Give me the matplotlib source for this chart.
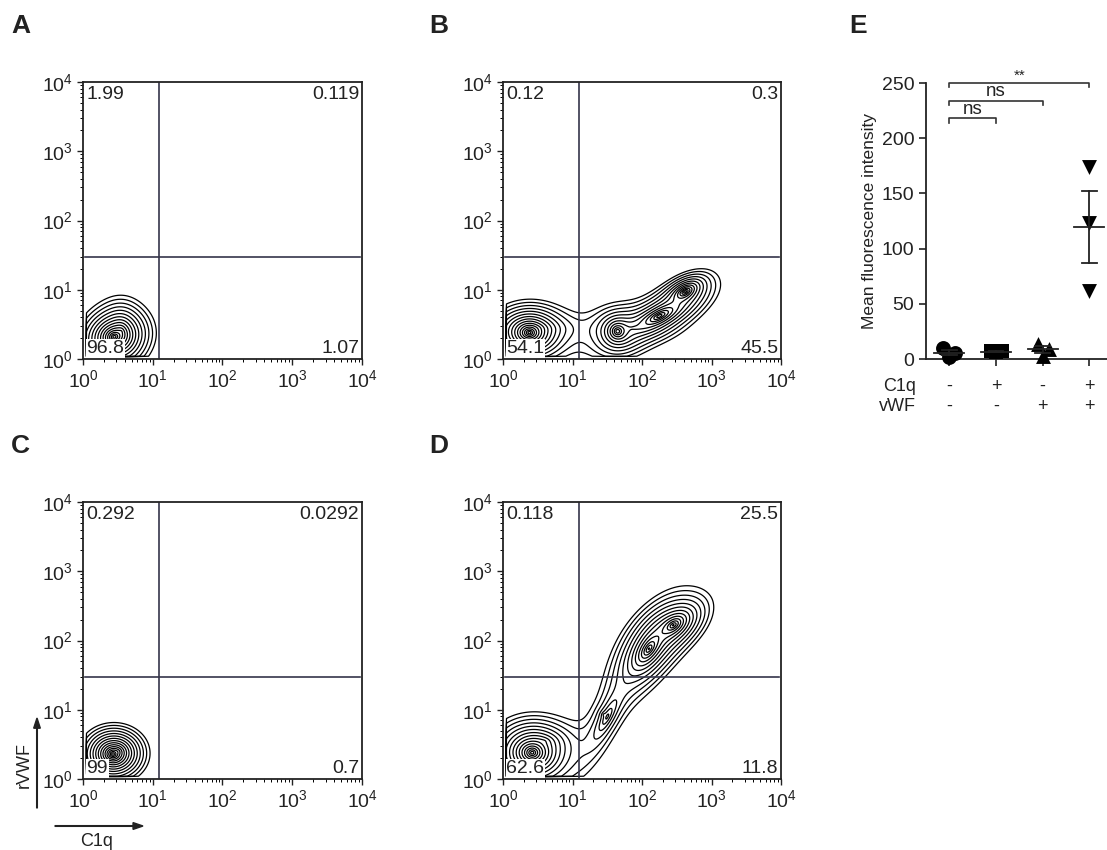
import numpy as np
import matplotlib
matplotlib.use("Agg")
import matplotlib.pyplot as plt
from matplotlib.patches import FancyArrow
from matplotlib.ticker import LogLocator, NullFormatter

plt.rcParams['font.family'] = ['Liberation Sans', 'DejaVu Sans']
plt.rcParams['mathtext.fontset'] = 'custom'
plt.rcParams['mathtext.rm'] = 'Liberation Sans'
plt.rcParams['mathtext.it'] = 'Liberation Sans:italic'
plt.rcParams['mathtext.bf'] = 'Liberation Sans:bold'

# quadrant percentages (UL, UR, LL, LR) for each flow panel
quad_A = ['1.99', '0.119', '96.8', '1.07']
quad_B = ['0.12', '0.3', '54.1', '45.5']
quad_C = ['0.292', '0.0292', '99', '0.7']
quad_D = ['0.118', '25.5', '62.6', '11.8']

# gate positions
gate_x = 12.3
gate_y = 30

# populations, in log10 units:
# (centre x, centre y, reach x, reach y, tilt, relative weight)
pops_A = [(0.45, 0.32, 0.55, 0.48, 0.1, 1.0),
          (0.55, 0.40, 0.62, 0.90, 0.0, 0.12)]
pops_B = [(0.38, 0.38, 0.58, 0.45, 0.0, 1.0),
          (0.50, 0.45, 2.30, 0.75, 0.0, 0.03),
          (1.65, 0.40, 0.50, 0.50, 0.0, 0.3),
          (1.90, 0.45, 2.00, 0.75, 0.0, 0.03),
          (2.25, 0.62, 1.00, 0.62, 0.7, 0.4),
          (2.62, 0.97, 0.52, 0.40, 0.5, 0.4)]
pops_C = [(0.43, 0.36, 0.48, 0.42, 0.0, 1.0),
          (0.50, 0.40, 0.60, 0.50, 0.0, 0.12)]
pops_D = [(0.42, 0.38, 0.65, 0.55, 0.0, 1.0),
          (0.60, 0.55, 1.30, 0.70, 0.0, 0.04),
          (2.10, 1.88, 0.72, 0.92, 0.6, 0.45),
          (2.45, 2.22, 0.70, 0.60, 0.5, 0.45),
          (1.50, 0.90, 1.10, 1.90, 0.8, 0.07),
          (1.45, 0.93, 0.22, 0.22, 0.0, 0.02)]

# panel E: mean fluorescence intensity
groups = [0, 1, 2, 3]
mfi_vals = [[10, 2, 5], [7, 6, 7], [14, 3, 9], [174, 123, 62]]
c1q_row = ['-', '+', '-', '+']
vwf_row = ['-', '-', '+', '+']
brackets = [(0, 3, 250, '**'), (0, 2, 234, 'ns'), (0, 1, 218, 'ns')]

W, H = 1107, 850
fig = plt.figure(figsize=(W / 100, H / 100), dpi=100)
ink = '#222222'


def box(l, t, r, b):
    return [l / W, 1 - b / H, (r - l) / W, (b - t) / H]


def density(pops):
    g = np.linspace(-0.1, 4.1, 420)
    X, Y = np.meshgrid(g, g)
    Z = np.zeros_like(X)
    for cx, cy, sx, sy, rho, w in pops:
        dx = (X - cx) / sx
        dy = (Y - cy) / sy
        q = (dx * dx - 2 * rho * dx * dy + dy * dy) / (1 - rho ** 2)
        Z += w * np.exp(-4.8 * (q + 0.0005) ** 0.325)
    Z[(X < 0.05) | (Y < 0.04)] = 0
    return 10 ** X, 10 ** Y, Z


def flow_panel(rect, pops, quads):
    ax = fig.add_axes(rect)
    X, Y, Z = density(pops)
    levels = np.geomspace(0.008, 0.55, 15)
    ax.contour(X, Y, Z, levels=levels, colors='black', linewidths=0.9)
    ax.set_xscale('log')
    ax.set_yscale('log')
    ax.set_xlim(1, 1e4)
    ax.set_ylim(1, 1e4)
    for a in (ax.xaxis, ax.yaxis):
        a.set_major_locator(LogLocator(base=10, numticks=10))
        a.set_minor_locator(LogLocator(base=10, subs=np.arange(2, 10), numticks=10))
        a.set_minor_formatter(NullFormatter())
    ax.tick_params(which='major', direction='out', length=4, width=1, labelsize=14, colors=ink)
    ax.tick_params(which='minor', direction='out', length=2, width=0.7)
    for s in ax.spines.values():
        s.set_linewidth(1.3)
        s.set_color(ink)
    ax.plot([gate_x, gate_x], [1.03, 9700], color='#35354a', lw=1.2)
    ax.plot([1.06, 9500], [gate_y, gate_y], color='#35354a', lw=1.2)
    kw = dict(fontsize=14, color=ink, transform=ax.transAxes,
              bbox=dict(facecolor='white', edgecolor='none', pad=0.5))
    ax.text(0.012, 0.985, quads[0], ha='left', va='top', **kw)
    ax.text(0.99, 0.985, quads[1], ha='right', va='top', **kw)
    ax.text(0.012, 0.008, quads[2], ha='left', va='bottom', **kw)
    ax.text(0.99, 0.008, quads[3], ha='right', va='bottom', **kw)
    return ax


flow_panel(box(83, 82, 362, 359), pops_A, quad_A)
flow_panel(box(503, 82, 781, 359), pops_B, quad_B)
flow_panel(box(83, 502, 362, 779), pops_C, quad_C)
flow_panel(box(503, 502, 781, 779), pops_D, quad_D)

# panel letters
for lab, (px, py) in {'A': (11, 14), 'B': (429, 14), 'E': (849, 14),
                      'C': (11, 434), 'D': (429, 434)}.items():
    fig.text(px / W, 1 - py / H, lab, fontsize=19, fontweight='bold', va='top', ha='left', color=ink)

# axis arrows under panel C
fig.patches.append(FancyArrow(37 / W, 1 - 808 / H, 0, 90 / H, width=0.0006,
                              head_width=0.006, head_length=0.012,
                              length_includes_head=True, transform=fig.transFigure, color=ink))
fig.patches.append(FancyArrow(55 / W, 1 - 826 / H, 88 / W, 0, width=0.0008,
                              head_width=0.008, head_length=0.009,
                              length_includes_head=True, transform=fig.transFigure, color=ink))
fig.text(24 / W, 1 - 765 / H, 'rVWF', rotation=90, ha='center', va='center', fontsize=13, color=ink)
fig.text(97 / W, 1 - 842 / H, 'C1q', ha='center', va='center', fontsize=13, color=ink)

# panel E
ax = fig.add_axes(box(926, 83, 1107, 359))
markers = ['o', 's', '^', 'v']
offsets = [[-0.13, 0.0, 0.13], [-0.1, 0.0, 0.13], [-0.1, 0.0, 0.13], [0.0, 0.0, 0.0]]
for g, vals, m, off in zip(groups, mfi_vals, markers, offsets):
    vals = np.array(vals, dtype=float)
    ax.scatter(g + np.array(off), vals, marker=m, s=115, color='black', zorder=3, clip_on=False, linewidths=0)
    mean = vals.mean()
    sem = vals.std(ddof=1) / np.sqrt(len(vals))
    ax.plot([g - 0.32, g + 0.32], [mean, mean], color=ink, lw=1.3, zorder=4)
    ax.plot([g, g], [mean - sem, mean + sem], color=ink, lw=1.3, zorder=4)
    for v in (mean - sem, mean + sem):
        ax.plot([g - 0.16, g + 0.16], [v, v], color=ink, lw=1.3, zorder=4)
ax.set_xlim(-0.5, 3.38)
ax.set_ylim(0, 250)
ax.set_yticks([0, 50, 100, 150, 200, 250])
ax.set_xticks(groups)
ax.set_xticklabels([])
ax.spines['top'].set_visible(False)
ax.spines['right'].set_visible(False)
for s in ('left', 'bottom'):
    ax.spines[s].set_linewidth(1.3)
    ax.spines[s].set_color(ink)
ax.tick_params(direction='out', length=5, width=1.2, labelsize=14, colors=ink)
ax.set_ylabel('Mean fluorescence intensity', fontsize=12.5, color=ink, labelpad=3)
for g0, g1, y, lab in brackets:
    ax.plot([g0, g0, g1, g1], [y - 4, y, y, y - 4], color='#333333', lw=1.2, clip_on=False)
    fs = 11 if lab == '**' else 13.5
    ax.text((g0 + g1) / 2, y + 0.5, lab, ha='center', va='bottom', fontsize=fs, color=ink)
tr = ax.get_xaxis_transform()
ax.text(-0.72, -0.10, 'C1q', transform=tr, ha='right', va='center', fontsize=13, color=ink)
ax.text(-0.72, -0.173, 'vWF', transform=tr, ha='right', va='center', fontsize=13, color=ink)
for g, a, b in zip(groups, c1q_row, vwf_row):
    ax.text(g, -0.10, a, transform=tr, ha='center', va='center', fontsize=13, color=ink)
    ax.text(g, -0.173, b, transform=tr, ha='center', va='center', fontsize=13, color=ink)

fig.savefig('out.png', dpi=100)
